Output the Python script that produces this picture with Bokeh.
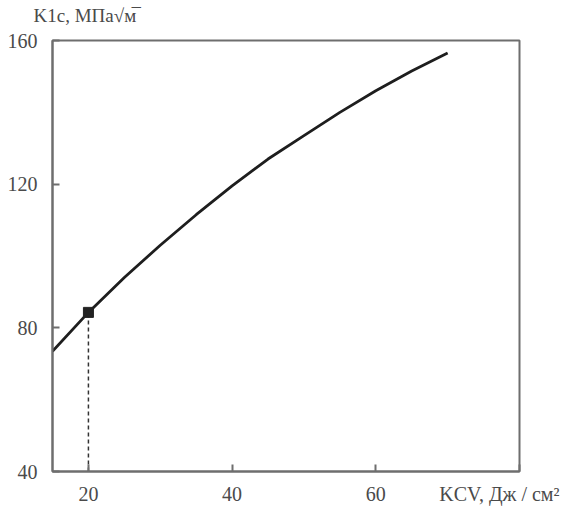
from bokeh.plotting import figure
from bokeh.models import LinearAxis, FixedTicker, Range1d
from bokeh.embed import file_html
from bokeh.resources import INLINE

# data
kcv = [15, 20, 25, 30, 35, 40, 45, 50, 55, 60, 65, 70]
k1c = [73.5, 84.3, 94.0, 103.0, 111.5, 119.5, 127.0, 133.5, 140.0, 146.0, 151.5, 156.5]
marker_x = [20]
marker_y = [84.3]
x_ticks = [20, 40, 60]
y_ticks = [40, 80, 120, 160]
x_title = "KCV, Дж / см²"
y_title = "K1c, МПа√м\u0305"

FONT = "Liberation Serif"
TXT = "#4a4a4a"
FRAME = "#6e6e6e"
X_MAX = 80

p = figure(width=579, height=507, output_backend="svg", toolbar_location=None,
           x_range=Range1d(15, X_MAX), y_range=Range1d(40, 160),
           min_border_left=52, min_border_top=40, min_border_right=60, min_border_bottom=36)
p.grid.visible = False
p.outline_line_color = FRAME
p.outline_line_width = 2
p.background_fill_color = "white"
p.border_fill_color = "white"

def style_axis(ax):
    ax.axis_line_color = FRAME
    ax.axis_line_width = 2
    ax.major_tick_in = 7
    ax.major_tick_out = 0
    ax.major_tick_line_color = FRAME
    ax.major_tick_line_width = 2
    ax.minor_tick_line_color = None
    ax.major_label_text_font = FONT
    ax.major_label_text_font_size = "20px"
    ax.major_label_text_color = TXT

# bottom axis: the title sits on the tick at the right frame edge (its tick mark
# coincides with the frame line); trailing no-break spaces shift it left
xa = p.xaxis[0]
xa.ticker = FixedTicker(ticks=x_ticks + [X_MAX])
xa.major_label_overrides = {X_MAX: x_title + "\u00a0" * 4}
style_axis(xa)
xa.major_label_standoff = 11

# left axis
ya = p.yaxis[0]
ya.ticker = FixedTicker(ticks=y_ticks)
style_axis(ya)
ya.major_label_standoff = 15

# top axis carrying the y title
ty_x = 19.5
ta = LinearAxis(ticker=FixedTicker(ticks=[ty_x]), major_label_overrides={ty_x: y_title})
style_axis(ta)
ta.axis_line_color = None
ta.major_tick_line_color = None
ta.major_tick_in = 0
ta.major_label_text_font_size = "19px"
ta.major_label_standoff = 15
p.add_layout(ta, "above")

# dashed drop line from the marked point
p.segment(x0=marker_x, y0=[40], x1=marker_x, y1=marker_y, line_color="#333333",
          line_width=1.5, line_dash="4 3")
p.line(kcv, k1c, line_color="#1e1e1e", line_width=2.8)
p.scatter(marker_x, marker_y, marker="square", size=10, fill_color="#222222", line_color="#222222")

open("out.html", "w").write(file_html(p, INLINE))
